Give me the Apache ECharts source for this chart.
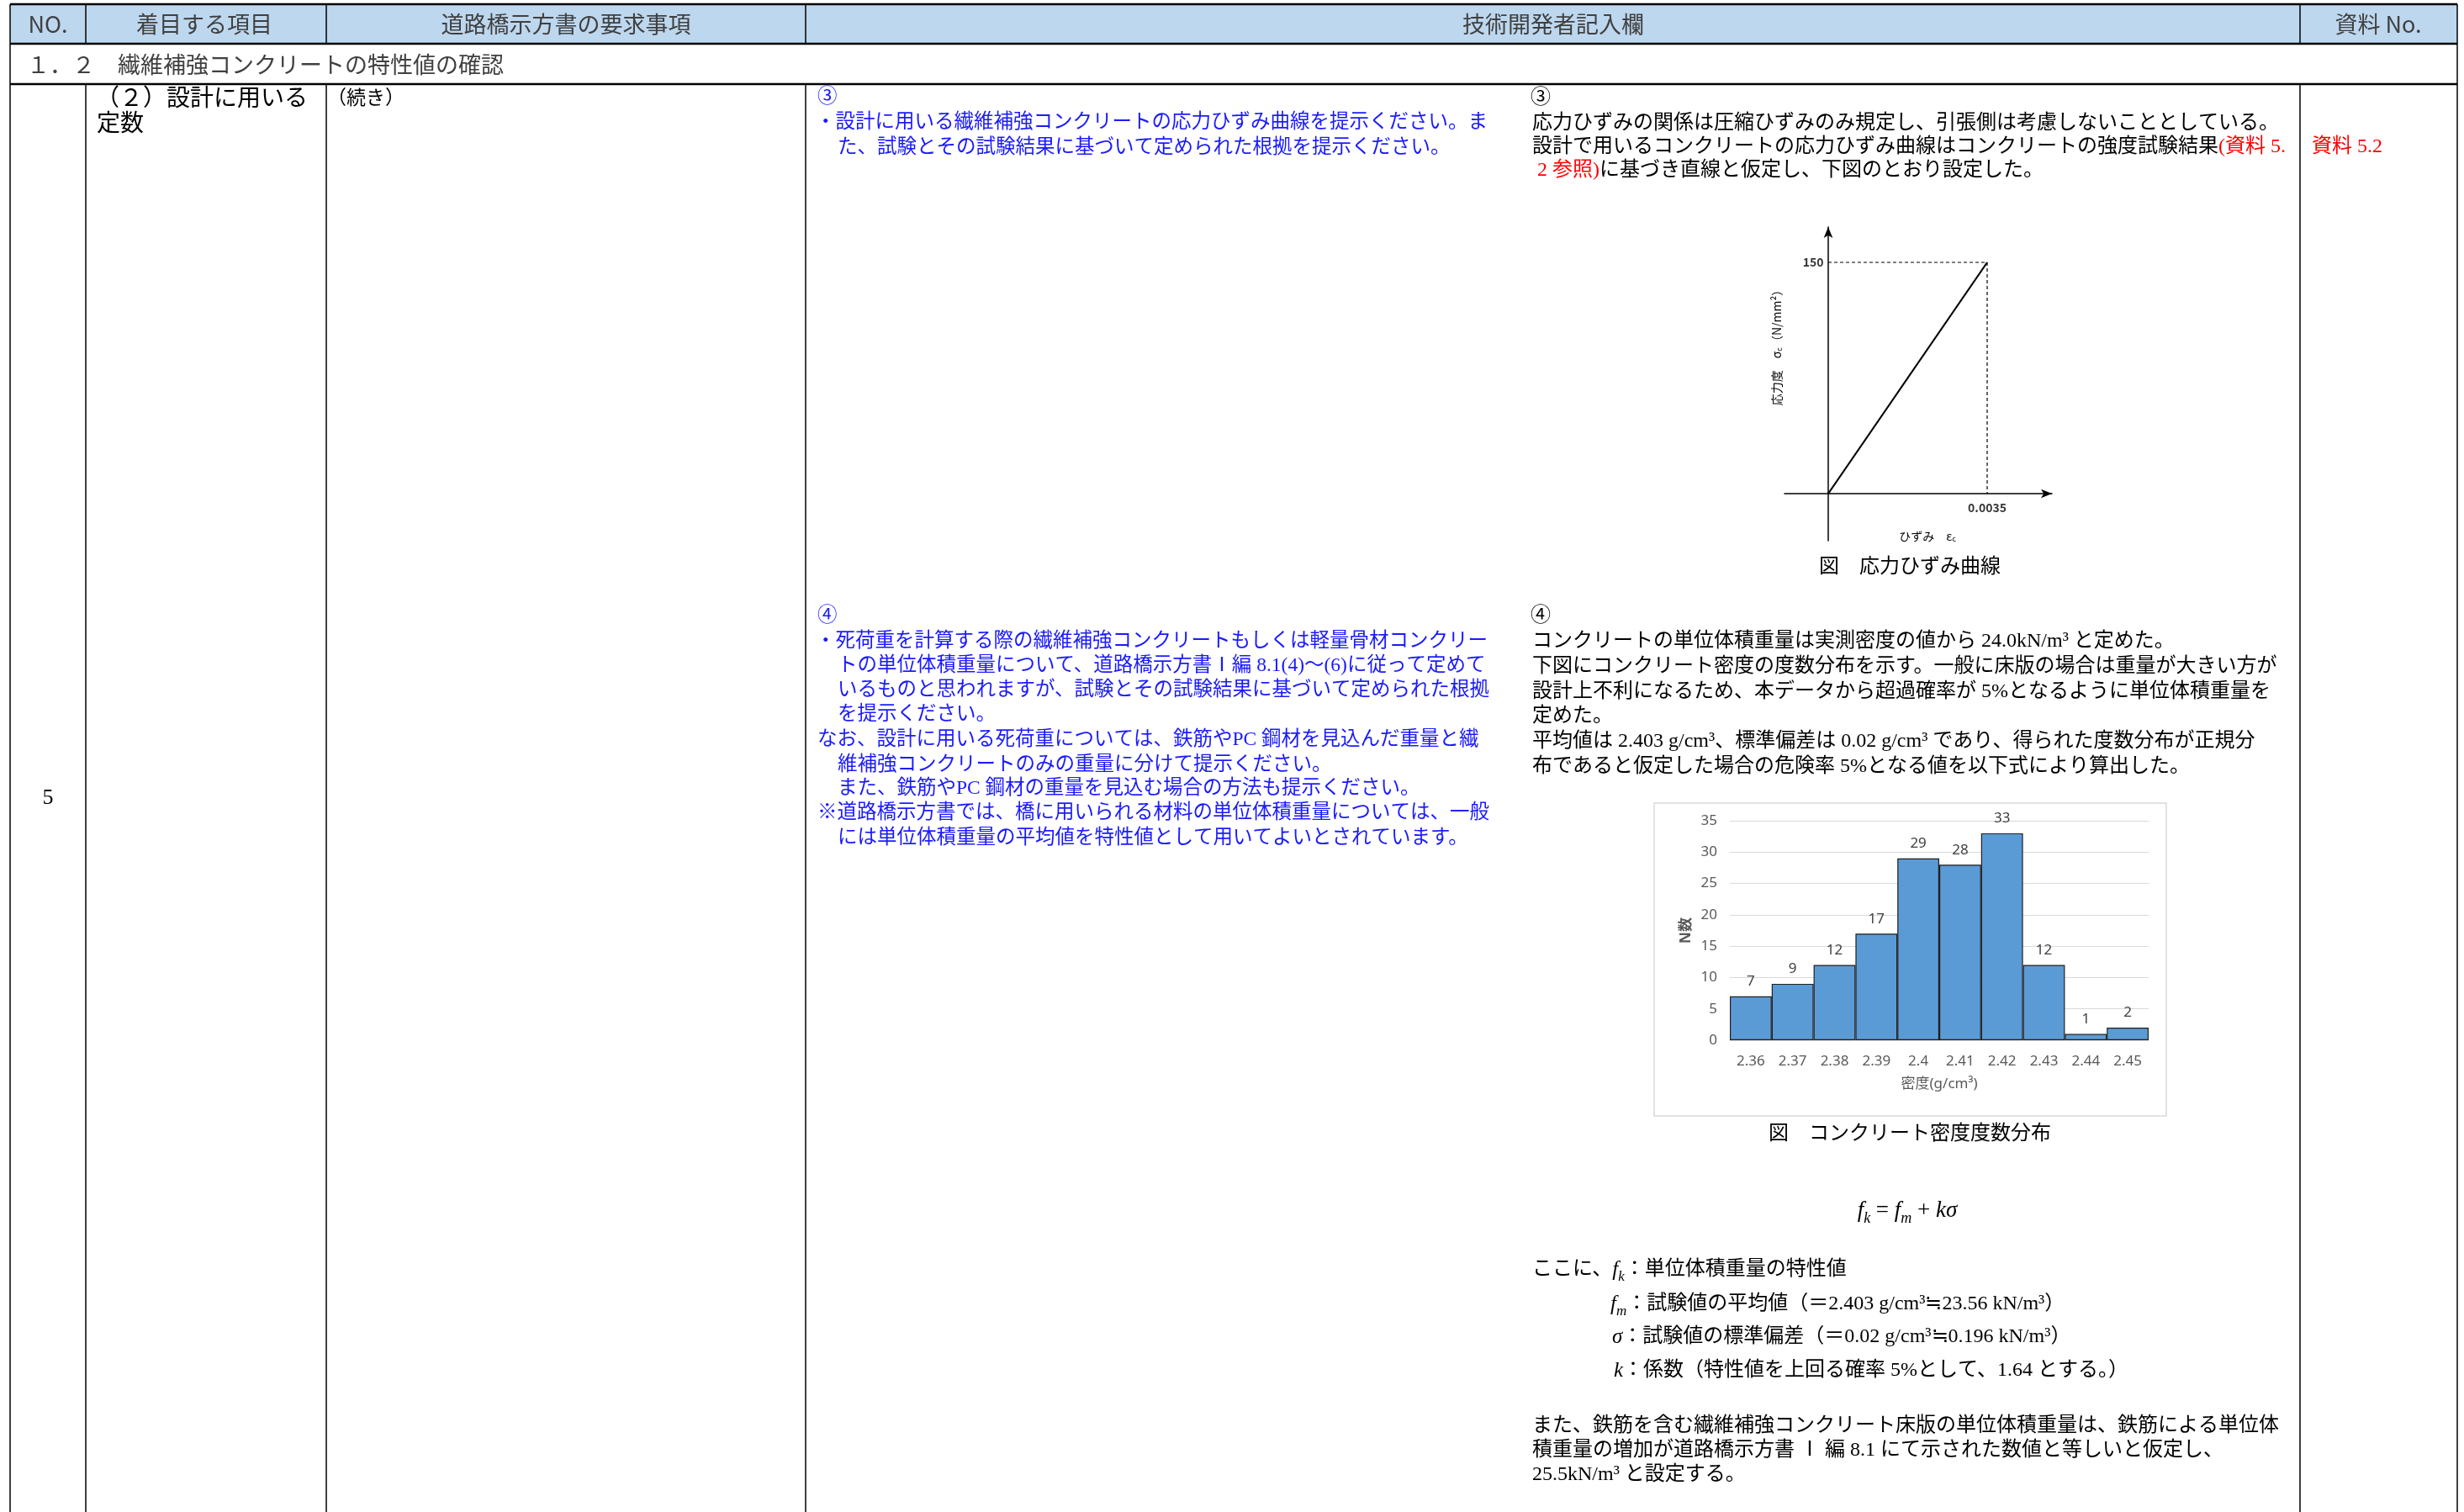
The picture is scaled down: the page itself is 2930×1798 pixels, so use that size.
<!DOCTYPE html>
<html><head><meta charset="utf-8">
<script src="https://cdn.jsdelivr.net/npm/echarts@6/dist/echarts.min.js"></script>
<style>html,body{margin:0;padding:0;background:#fff;overflow:hidden}#c{width:2930px;height:1798px}</style>
</head><body><div id="c"></div>
<script>
// ---- Histogram data (concrete density distribution) ----
const densityBins = ['2.36','2.37','2.38','2.39','2.4','2.41','2.42','2.43','2.44','2.45'];
const densityCounts = [7, 9, 12, 17, 29, 28, 33, 12, 1, 2];
const countMax = 35;
const countInterval = 5;
// ---- Stress-strain curve data ----
const strainPts = [0, 0.0035];
const stressPts = [0, 150];

const SERIF = "'Liberation Serif','Noto Sans CJK JP',serif";
const SANS = "'Noto Sans CJK JP','Noto Sans',sans-serif";
const BLUE = '#1a1aff', RED = '#ff0000', HEAD = '#404040';

function txt(x, y, text, o) {
  o = o || {};
  const st = {text: text, fill: o.fill || '#000', fontSize: o.size || 24, fontFamily: o.family || SERIF,
    fontWeight: o.weight || 'normal', textAlign: o.align || 'left', textVerticalAlign: 'middle'};
  if (o.rich) st.rich = o.rich;
  return {type: 'text', x: x, y: y, rotation: o.rot || 0, silent: true, z: 10, style: st};
}
function ln(x1, y1, x2, y2, w) {
  return {type: 'line', silent: true, z: 5, shape: {x1: x1, y1: y1, x2: x2, y2: y2}, style: {stroke: '#000', lineWidth: w || 1.5}};
}
const redR = {r: {fill: RED, color: RED, fontSize: 24, fontFamily: SERIF}};

const g = [];
// header fill
g.push({type: 'rect', silent: true, z: 1, shape: {x: 12, y: 6, width: 2910, height: 46}, style: {fill: '#BDD7EE'}});
// horizontal rules
g.push(ln(12, 5, 2922, 5, 2.5));
g.push(ln(12, 52, 2922, 52, 2.5));
g.push(ln(12, 100, 2922, 100, 2.5));
// vertical rules
g.push(ln(12, 5, 12, 1798, 1.5));
g.push(ln(2922, 5, 2922, 1798, 1.5));
[102, 388, 958, 2735].forEach(function (x) { g.push(ln(x, 5, x, 52, 1.5)); g.push(ln(x, 100, x, 1798, 1.5)); });

// header texts
g.push(txt(57, 29, 'NO.', {fill: HEAD, size: 27, family: SANS, align: 'center'}));
g.push(txt(243, 29, '着目する項目', {fill: HEAD, size: 27, family: SANS, align: 'center'}));
g.push(txt(673, 29, '道路橋示方書の要求事項', {fill: HEAD, size: 27, family: SANS, align: 'center'}));
g.push(txt(1847, 29, '技術開発者記入欄', {fill: HEAD, size: 27, family: SANS, align: 'center'}));
g.push(txt(2828, 29, '資料 No.', {fill: HEAD, size: 27, family: SANS, align: 'center'}));
// section row
g.push(txt(32, 77, '１．２　繊維補強コンクリートの特性値の確認', {fill: HEAD, size: 27, family: SANS}));
// body col 1-3
g.push(txt(57, 949, '5', {size: 26, align: 'center'}));
g.push(txt(114, 115, '（２）設計に用いる', {size: 28, family: SANS}));
g.push(txt(115, 145, '定数', {size: 28, family: SANS}));
g.push(txt(389, 115, '（続き）', {size: 23, family: SANS}));

// question column (blue)
const qs = 23.5;
g.push(txt(972, 116, '③', {fill: BLUE, size: qs}));
g.push(txt(970, 146, '・設計に用いる繊維補強コンクリートの応力ひずみ曲線を提示ください。ま', {fill: BLUE, size: qs}));
g.push(txt(996, 176, 'た、試験とその試験結果に基づいて定められた根拠を提示ください。', {fill: BLUE, size: qs}));
g.push(txt(972, 733, '④', {fill: BLUE, size: qs}));
const q4 = [
  [970, '・死荷重を計算する際の繊維補強コンクリートもしくは軽量骨材コンクリー'],
  [996, 'トの単位体積重量について、道路橋示方書Ⅰ編 8.1(4)～(6)に従って定めて'],
  [996, 'いるものと思われますが、試験とその試験結果に基づいて定められた根拠'],
  [996, 'を提示ください。'],
  [972, 'なお、設計に用いる死荷重については、鉄筋やPC 鋼材を見込んだ重量と繊'],
  [996, '維補強コンクリートのみの重量に分けて提示ください。'],
  [996, 'また、鉄筋やPC 鋼材の重量を見込む場合の方法も提示ください。'],
  [972, '※道路橋示方書では、橋に用いられる材料の単位体積重量については、一般'],
  [996, 'には単位体積重量の平均値を特性値として用いてよいとされています。']
];
const q4y = [763, 792, 821, 850, 880, 910, 938, 967, 997];
q4.forEach(function (l, i) { g.push(txt(l[0], q4y[i], l[1], {fill: BLUE, size: qs})); });

// answer column (black)
g.push(txt(1820, 117, '③', {size: 24}));
g.push(txt(1822, 147, '応力ひずみの関係は圧縮ひずみのみ規定し、引張側は考慮しないこととしている。', {size: 24}));
g.push(txt(1822, 175, '設計で用いるコンクリートの応力ひずみ曲線はコンクリートの強度試験結果{r|(資料 5.}', {size: 24, rich: redR}));
g.push(txt(1822, 203, '{r| 2 参照)}に基づき直線と仮定し、下図のとおり設定した。', {size: 24, rich: redR}));
g.push(txt(2749, 175, '資料 5.2', {fill: RED, size: 24}));

g.push(txt(1820, 733, '④', {size: 24}));
const a4 = [
  'コンクリートの単位体積重量は実測密度の値から 24.0kN/m³ と定めた。',
  '下図にコンクリート密度の度数分布を示す。一般に床版の場合は重量が大きい方が',
  '設計上不利になるため、本データから超過確率が 5%となるように単位体積重量を',
  '定めた。',
  '平均値は 2.403 g/cm³、標準偏差は 0.02 g/cm³ であり、得られた度数分布が正規分',
  '布であると仮定した場合の危険率 5%となる値を以下式により算出した。'
];
const a4y = [763, 793, 823, 852, 882, 912];
a4.forEach(function (l, i) { g.push(txt(1822, a4y[i], l, {size: 24})); });

// formula
const mathR = {
  i: {fontFamily: SERIF, fontStyle: 'italic', fontSize: 27, lineHeight: 36, verticalAlign: 'middle'},
  o: {fontFamily: SERIF, fontSize: 27, lineHeight: 36, verticalAlign: 'middle'},
  s: {fontFamily: SERIF, fontStyle: 'italic', fontSize: 18, lineHeight: 18, verticalAlign: 'bottom'}
};
g.push(txt(2268, 1440, '{i|f}{s|k}{o| = }{i|f}{s|m}{o| + }{i|kσ}', {align: 'center', rich: mathR}));
const defR = {
  i: {fontFamily: SERIF, fontStyle: 'italic', fontSize: 25, lineHeight: 34, verticalAlign: 'middle'},
  s: {fontFamily: SERIF, fontStyle: 'italic', fontSize: 17, lineHeight: 17, verticalAlign: 'bottom'},
  t: {fontFamily: SERIF, fontSize: 24, lineHeight: 34, verticalAlign: 'middle'}
};
g.push(txt(1822, 1510, '{t|ここに、}{i|f}{s|k}{t|：単位体積重量の特性値}', {rich: defR}));
g.push(txt(1915, 1551, '{i|f}{s|m}{t|：試験値の平均値（＝2.403 g/cm³≒23.56 kN/m³）}', {rich: defR}));
g.push(txt(1917, 1590, '{i|σ}{t|：試験値の標準偏差（＝0.02 g/cm³≒0.196 kN/m³）}', {rich: defR}));
g.push(txt(1919, 1630, '{i|k}{t|：係数（特性値を上回る確率 5%として、1.64 とする。）}', {rich: defR}));

g.push(txt(1822, 1696, 'また、鉄筋を含む繊維補強コンクリート床版の単位体積重量は、鉄筋による単位体', {size: 24}));
g.push(txt(1822, 1725, '積重量の増加が道路橋示方書 Ⅰ 編 8.1 にて示された数値と等しいと仮定し、', {size: 24}));
g.push(txt(1822, 1754, '25.5kN/m³ と設定する。', {size: 24}));

// stress-strain figure texts
const subC = {c: {fontSize: 9, fontFamily: SANS, verticalAlign: 'bottom', lineHeight: 9, fill: '#000'}};
g.push(txt(2292, 638, 'ひずみ　ε{c|c}', {size: 14, family: SANS, align: 'center', rich: subC}));
g.push(txt(2113, 410, '応力度　σ{c|c}（N/mm²）', {size: 14, family: SANS, align: 'center', rot: Math.PI / 2, rich: subC}));
g.push(txt(2271, 672, '図　応力ひずみ曲線', {size: 24, family: SANS, align: 'center'}));
// histogram frame and caption
g.push({type: 'rect', silent: true, z: 0, shape: {x: 1967, y: 955, width: 609, height: 372}, style: {fill: 'none', stroke: '#d9d9d9', lineWidth: 1.5}});
g.push(txt(2271, 1346, '図　コンクリート密度度数分布', {size: 24, family: SANS, align: 'center'}));

const pxPerStrain = 189 / 0.0035, pxPerStress = 275 / 150;
const ssGuide = [[strainPts[0], stressPts[1]], [strainPts[1], stressPts[1]], [strainPts[1], stressPts[0]]];
const lblStyle = {fontSize: 14, fontFamily: SANS, color: '#000', fontWeight: 'bold'};
const ssLabels = [
  {value: [strainPts[0], stressPts[1]], label: Object.assign({show: true, position: 'left', distance: 5, formatter: String(stressPts[1])}, lblStyle)},
  {value: [strainPts[1], stressPts[0]], label: Object.assign({show: true, position: 'bottom', distance: 9, formatter: String(strainPts[1])}, lblStyle)}
];

const chart = echarts.init(document.getElementById('c'), null, {renderer: 'canvas'});
chart.setOption({
  animation: false,
  backgroundColor: '#fff',
  graphic: {elements: g},
  grid: [
    {left: 2122, top: 270, width: 318, height: 373},
    {left: 2057, top: 976, width: 498, height: 261}
  ],
  xAxis: [
    {gridIndex: 0, type: 'value', min: -52 / pxPerStrain, max: 266 / pxPerStrain,
      axisLine: {onZero: true, symbol: ['none', 'arrow'], symbolSize: [8, 13], lineStyle: {color: '#000', width: 1.5}},
      axisTick: {show: false}, axisLabel: {show: false}, splitLine: {show: false}},
    {gridIndex: 1, type: 'category', data: densityBins,
      axisTick: {show: false}, axisLine: {lineStyle: {color: '#d9d9d9'}},
      axisLabel: {color: '#595959', fontSize: 17, fontFamily: "'Noto Sans',sans-serif", margin: 17},
      name: '密度(g/cm³)', nameLocation: 'middle', nameGap: 44,
      nameTextStyle: {color: '#595959', fontSize: 17, fontFamily: "'Noto Sans','Noto Sans CJK JP',sans-serif"}}
  ],
  yAxis: [
    {gridIndex: 0, type: 'value', min: -56 / pxPerStress, max: 317 / pxPerStress,
      axisLine: {onZero: true, symbol: ['none', 'arrow'], symbolSize: [8, 13], lineStyle: {color: '#000', width: 1.5}},
      axisTick: {show: false}, axisLabel: {show: false}, splitLine: {show: false}},
    {gridIndex: 1, type: 'value', min: 0, max: countMax, interval: countInterval,
      axisLine: {show: false}, axisTick: {show: false},
      splitLine: {lineStyle: {color: '#d9d9d9', width: 1}},
      axisLabel: {color: '#595959', fontSize: 17, fontFamily: "'Noto Sans',sans-serif", margin: 15},
      name: 'N数', nameLocation: 'middle', nameGap: 43,
      nameTextStyle: {color: '#595959', fontSize: 17, fontWeight: 'bold', fontFamily: "'Noto Sans','Noto Sans CJK JP',sans-serif"}}
  ],
  series: [
    {type: 'line', xAxisIndex: 0, yAxisIndex: 0, symbol: 'none',
      data: strainPts.map(function (s, i) { return [s, stressPts[i]]; }),
      lineStyle: {color: '#000', width: 2.2}},
    {type: 'line', xAxisIndex: 0, yAxisIndex: 0, symbol: 'none',
      data: ssGuide, lineStyle: {color: '#000', width: 1.2, type: [4, 3]}},
    {type: 'scatter', xAxisIndex: 0, yAxisIndex: 0, symbolSize: 1, itemStyle: {color: 'rgba(0,0,0,0)'},
      data: ssLabels, z: 5},
    {type: 'bar', xAxisIndex: 1, yAxisIndex: 1, data: densityCounts, barCategoryGap: '0%',
      itemStyle: {color: '#5B9BD5', borderColor: '#1f1f1f', borderWidth: 1.2},
      label: {show: true, position: 'top', distance: 9, color: '#404040', fontSize: 17, fontFamily: "'Noto Sans',sans-serif"}}
  ]
});
</script></body></html>
